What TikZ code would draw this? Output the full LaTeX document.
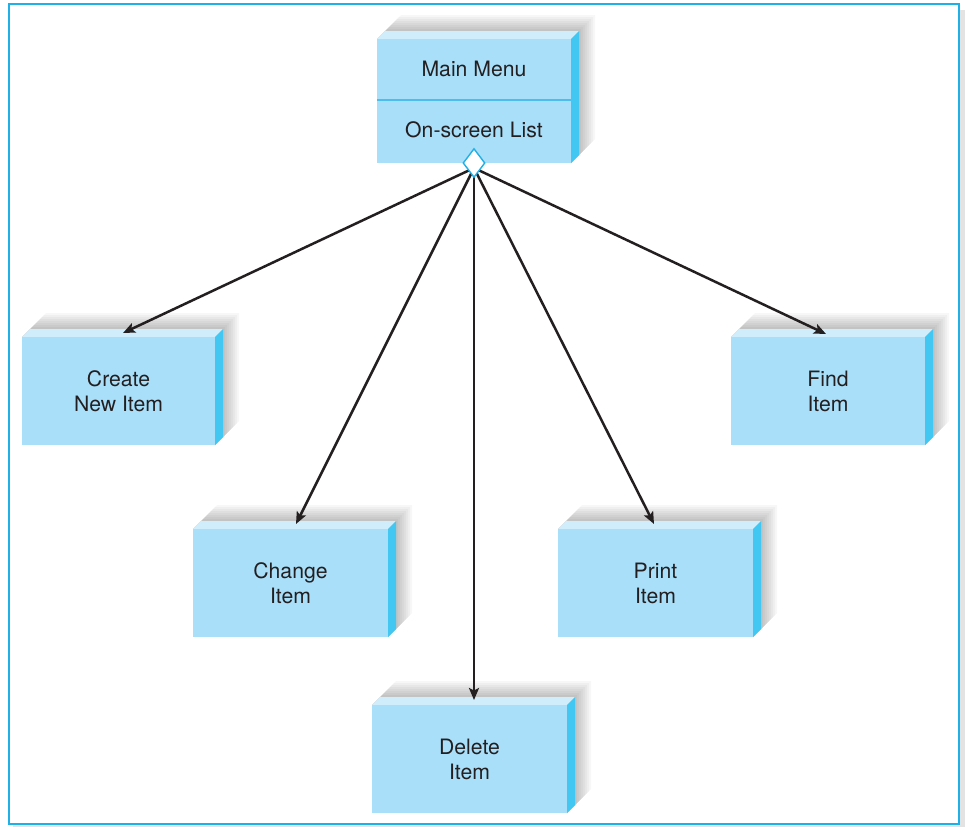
\documentclass[tikz,border=0pt]{standalone}
\usepackage{fontspec}
\setmainfont{TeX Gyre Heros}
\usetikzlibrary{arrows.meta,shapes.geometric}
\definecolor{face}{HTML}{A9DFF9}
\definecolor{band}{HTML}{D0EDFB}
\definecolor{side}{HTML}{41C7F2}
\definecolor{frameblue}{HTML}{1FB0E8}
\definecolor{ink}{HTML}{231F20}
\definecolor{divider}{HTML}{4DBDEB}
\tikzset{
  facebox/.style={fill=face, draw=none, inner sep=0pt, align=center, text=ink,
    font=\fontsize{21.2}{25}\selectfont},
  labeltext/.style={inner sep=0pt, text=ink, font=\fontsize{21.2}{25}\selectfont},
  conn/.style={draw=ink, line width=2.5pt, -{Stealth[length=12pt,width=10pt,inset=2.5pt]}},
  aggdiamond/.style={diamond, draw=frameblue, fill=white, line width=1.4pt, inner sep=0pt,
    minimum width=22pt, minimum height=29pt}
}
% name, L, T, R, B, text
\newcommand\tdbox[6]{%
  \foreach \s in {16,14,...,2}{%
    \fill[black,opacity=0.032] (#2,#3)--(#2+8,#3-8)--(#2+8+\s,#3-8-\s)--(#4+8+\s,#3-8-\s)
      --(#4+8+\s,#5-8-\s)--(#4+8,#5-8)--(#4,#5)--cycle;}
  \fill[band] (#2,#3)--(#2+8,#3-8)--(#4+8,#3-8)--(#4,#3)--cycle;
  \fill[side] (#4,#3)--(#4+8,#3-8)--(#4+8,#5-8)--(#4,#5)--cycle;
  \node[facebox, minimum width={(#4-#2)*1pt}, minimum height={(#5-#3)*1pt}]
    (#1) at ({(#2+#4)/2},{(#3+#5)/2}) {#6};
}
\begin{document}
\begin{tikzpicture}[x=1pt,y=-1pt]
\useasboundingbox (0,0) rectangle (965,827);
% frame with shadow
\fill[black!11] (13,10) rectangle (965,827);
\fill[white] (9,4) rectangle (959,824);
\draw[frameblue, line width=2pt] (9,4) rectangle (959,824);

% boxes
\tdbox{main}{377}{39}{571}{163}{}
\draw[divider, line width=1.2pt] (main.west |- 0,100) -- (main.east |- 0,100);
\node[labeltext] (mmtext) at (474,69) {Main Menu};
\node[labeltext] (oslist) at (474,130) {On-screen List};

\tdbox{create}{22}{337}{215}{445}{Create\\New Item}
\tdbox{find}{731}{337}{925}{445}{Find\\Item}
\tdbox{change}{193}{529}{388}{637}{Change\\Item}
\tdbox{print}{558}{529}{753}{637}{Print\\Item}
\tdbox{delete}{372}{705}{567}{813}{Delete\\Item}

% connectors
\coordinate (src) at (474,168);
\coordinate (tcreate) at (123,333);
\coordinate (tchange) at (296,524);
\coordinate (tdelete) at (474,700);
\coordinate (tprint) at (654,524);
\coordinate (tfind) at (826,334);
\draw[conn] (src) -- (tcreate);
\draw[conn] (src) -- (tchange);
\draw[conn] (src) -- (tdelete);
\draw[conn] (src) -- (tprint);
\draw[conn] (src) -- (tfind);

\node[aggdiamond] (agg) at (474,163) {};
\end{tikzpicture}
\end{document}
